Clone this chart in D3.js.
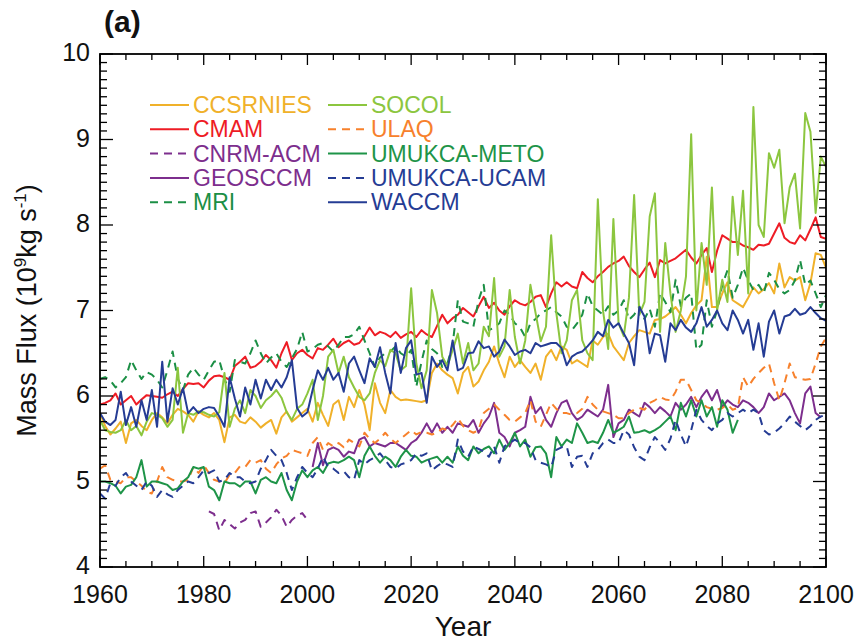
<!DOCTYPE html>
<html>
<head>
<meta charset="utf-8">
<script src="https://cdn.jsdelivr.net/npm/d3@7"></script>
<style>
  html, body { margin: 0; padding: 0; background: #fff; }
  svg { display: block; font-family: Arial, "Liberation Sans", sans-serif; }
</style>
</head>
<body>
<svg id="chart" width="863" height="641"></svg>
<script>
// Annual stratospheric mass flux per model (10^9 kg s^-1), first value = start year
const ccsrniesStart = 1960;
const ccsrnies = [
  5.80,5.65,5.55,5.62,5.70,5.45,5.68,5.72,5.65,5.60,
  5.72,5.80,5.75,5.68,5.78,5.85,5.82,5.78,5.70,5.82,
  5.78,5.75,5.80,5.72,5.46,5.75,5.78,5.70,5.68,5.75,
  5.70,5.63,5.68,5.72,5.56,5.75,5.82,5.70,5.75,5.80,
  5.85,5.70,5.92,5.78,5.65,5.90,5.95,5.72,5.99,5.87,
  6.07,5.90,5.60,6.15,5.92,5.80,6.07,5.99,5.95,5.96,
  5.95,5.94,5.93,5.95,6.27,6.38,6.30,6.25,6.21,6.03,
  6.27,6.34,6.11,6.17,6.30,6.40,6.58,6.38,6.22,6.46,
  6.34,6.42,6.34,6.27,6.38,6.19,6.46,6.54,6.42,6.58,
  6.54,6.38,6.42,6.38,6.34,6.65,6.60,6.69,6.73,6.58,
  6.50,6.42,6.62,6.70,6.77,6.75,6.73,6.89,6.90,6.93,
  6.98,7.04,6.95,6.85,6.97,7.06,7.12,7.63,7.04,7.04,
  7.20,7.33,7.12,7.08,7.04,7.15,7.27,7.20,7.25,7.32,
  7.20,7.55,7.27,7.39,7.35,7.39,7.12,7.32,7.67,7.65,7.50
];

const cmamStart = 1960;
const cmam = [
  5.90,5.92,5.95,6.03,5.90,5.95,6.00,5.90,5.96,6.01,
  6.00,5.99,5.98,6.02,6.05,6.00,6.08,6.15,6.14,6.15,
  6.10,6.18,6.23,6.24,6.22,6.19,6.35,6.40,6.46,6.33,
  6.35,6.40,6.48,6.42,6.33,6.50,6.63,6.42,6.50,6.54,
  6.48,6.44,6.56,6.54,6.60,6.67,6.57,6.62,6.65,6.60,
  6.62,6.70,6.80,6.71,6.75,6.73,6.69,6.75,6.68,6.72,
  6.75,6.69,6.77,6.72,6.69,6.82,6.95,6.85,6.91,6.95,
  7.03,6.98,6.93,7.05,7.16,7.03,7.09,7.00,6.95,7.05,
  7.12,7.08,7.06,7.10,7.16,7.18,7.04,7.20,7.33,7.28,
  7.33,7.28,7.26,7.45,7.38,7.33,7.40,7.45,7.51,7.55,
  7.58,7.63,7.52,7.45,7.39,7.48,7.56,7.39,7.59,7.55,
  7.58,7.61,7.66,7.71,7.62,7.55,7.65,7.73,7.45,7.70,
  7.88,7.84,7.80,7.80,7.76,7.74,7.71,7.77,7.76,7.78,
  7.90,8.02,7.85,7.80,7.78,7.88,7.82,7.95,8.09,7.86,7.84
];

const cnrmStart = 1981;
const cnrm = [
  4.65,4.62,4.43,4.55,4.50,4.45,4.52,4.55,4.63,4.65,
  4.47,4.52,4.58,4.67,4.60,4.47,4.55,4.60,4.63,4.55
];

const geosccmStart = 2001;
const geosccm = [
  5.17,5.45,5.19,5.37,5.40,5.37,5.29,5.35,5.33,
  5.49,5.52,5.41,5.45,5.43,5.41,5.45,5.45,5.41,5.37,
  5.45,5.49,5.57,5.68,5.57,5.68,5.57,5.64,5.57,5.68,
  5.66,5.64,5.72,5.57,5.68,5.76,5.92,5.57,5.52,5.41,
  5.57,5.60,5.64,5.99,5.80,5.87,5.72,5.64,5.80,5.92,
  5.95,5.80,5.72,5.76,5.84,5.80,5.76,5.84,6.13,5.52,
  5.68,5.72,5.84,5.80,5.76,5.92,5.87,5.80,5.87,5.82,
  5.76,5.92,5.84,5.90,5.99,5.87,5.99,6.07,5.95,6.07,
  5.87,5.95,5.90,5.87,5.95,5.92,5.87,5.80,5.87,6.03,
  5.95,5.99,6.03,5.95,5.80,5.68,6.03,6.11,5.80,5.75
];

const mriStart = 1960;
const mri = [
  6.20,6.22,6.18,6.10,6.15,6.22,6.42,6.30,6.20,6.28,
  6.25,6.19,6.10,6.30,6.52,6.20,6.07,6.25,6.33,6.25,
  6.19,6.30,6.40,6.42,6.20,6.05,6.42,6.40,6.38,6.50,
  6.65,6.50,6.38,6.45,6.50,6.40,6.34,6.44,6.55,6.75,
  6.52,6.55,6.60,6.62,6.58,6.52,6.60,6.69,6.69,6.72,
  6.81,6.65,6.50,6.34,6.45,6.50,6.52,6.58,6.50,6.46,
  6.54,6.11,6.40,6.65,6.55,6.50,6.34,6.38,6.60,7.12,
  6.87,6.85,6.81,7.12,7.30,6.77,6.80,6.85,7.00,6.95,
  6.85,6.80,6.69,6.85,6.90,6.97,7.00,7.04,6.98,6.93,
  6.81,6.77,6.85,6.95,7.20,7.05,7.00,6.95,7.05,6.95,
  7.00,7.12,6.89,6.95,7.05,6.90,7.02,6.81,7.20,7.10,
  6.98,7.36,7.05,7.15,7.20,6.54,6.60,7.12,6.81,7.00,
  7.30,7.47,7.15,7.30,7.50,7.35,7.24,7.30,7.20,7.44,
  7.36,7.25,7.20,7.24,7.35,7.59,7.30,7.35,7.20,7.04,7.18
];

const socolStart = 1960;
const socol = [
  5.72,5.60,5.58,5.57,5.60,5.72,5.60,5.65,5.54,5.70,
  5.80,5.78,5.74,5.64,5.72,6.33,5.57,5.80,5.78,5.82,
  5.81,5.78,5.76,5.81,6.27,5.64,5.85,5.95,5.80,6.07,
  6.00,5.86,5.95,6.00,6.07,5.98,5.81,5.72,5.85,5.90,
  6.03,6.19,5.72,6.00,6.46,6.54,6.27,6.46,6.22,6.10,
  5.99,5.95,6.03,6.27,6.42,6.35,6.54,6.50,6.30,6.35,
  7.26,6.38,6.09,6.30,7.24,6.97,6.46,6.35,6.54,6.73,
  6.38,6.62,6.30,6.38,6.81,6.70,7.38,6.46,6.58,7.24,
  6.69,6.38,6.65,7.30,6.97,6.64,6.81,7.88,6.97,6.50,
  6.65,7.12,7.24,6.65,6.50,6.42,8.30,7.00,6.55,8.07,
  6.85,6.70,7.15,8.35,6.95,7.10,8.10,8.37,6.75,7.79,
  7.20,6.75,7.00,7.40,9.06,7.00,7.79,7.30,8.44,7.00,
  7.36,7.10,8.33,7.65,8.40,7.20,9.38,8.00,7.86,8.84,
  8.67,8.88,8.02,8.44,8.60,7.96,9.31,9.09,8.14,8.80,8.68
];

const ulaqStart = 1960;
const ulaq = [
  5.15,5.19,5.02,5.00,4.98,5.05,5.05,5.00,4.95,4.88,
  4.86,5.00,5.17,5.05,5.02,5.00,5.00,5.02,5.17,5.10,
  5.19,5.10,5.02,5.00,4.98,5.08,5.10,5.18,5.17,5.25,
  5.22,5.25,5.15,5.10,5.20,5.27,5.30,5.37,5.35,5.33,
  5.30,5.45,5.52,5.37,5.45,5.41,5.45,5.40,5.49,5.45,
  5.41,5.57,5.50,5.45,5.50,5.57,5.50,5.45,5.50,5.55,
  5.60,5.55,5.58,5.57,5.55,5.57,5.62,5.60,5.66,5.74,
  5.65,5.60,5.57,5.60,5.80,5.85,5.90,5.84,5.78,5.72,
  5.70,5.75,5.80,5.95,5.70,5.64,5.78,5.92,5.85,5.80,
  5.80,5.78,5.80,5.85,5.99,5.90,5.84,5.82,5.80,5.78,
  5.74,5.74,5.80,5.84,5.86,5.84,5.92,5.95,5.99,5.96,
  5.95,6.05,6.19,6.19,6.07,5.95,5.92,5.87,5.85,5.84,
  5.86,5.90,5.84,5.86,6.22,6.11,6.20,6.27,6.33,6.38,
  6.15,5.95,6.15,6.38,6.22,6.20,6.19,6.20,6.38,6.58,6.68
];

const metoStart = 1960;
const meto = [
  5.00,5.00,4.98,4.95,4.86,4.94,4.96,5.05,5.25,4.94,
  5.00,5.00,4.98,4.96,4.90,4.92,5.00,5.05,5.17,5.15,
  5.17,4.94,4.90,4.78,5.00,4.98,4.98,4.94,5.00,5.00,
  4.86,5.02,5.05,5.00,4.98,5.10,4.90,4.78,5.00,5.13,
  5.05,5.13,5.17,5.10,5.21,5.23,5.22,5.25,5.29,5.25,
  5.05,5.30,5.41,5.30,5.22,5.29,5.25,5.17,5.29,5.37,
  5.30,5.29,5.22,5.25,5.27,5.29,5.22,5.29,5.22,5.41,
  5.30,5.25,5.41,5.33,5.38,5.41,5.33,5.49,5.37,5.45,
  5.57,5.41,5.49,5.29,5.40,5.41,5.33,5.05,5.52,5.41,
  5.49,5.45,5.68,5.57,5.45,5.47,5.45,5.57,5.72,5.57,
  5.60,5.64,5.76,5.57,5.58,5.60,5.57,5.60,5.64,5.70,
  5.76,5.60,5.92,5.76,5.95,5.76,5.95,5.76,5.87,5.64,
  5.95,5.84,5.57,5.72
];

const ucamStart = 1960;
const ucam = [
  4.86,4.80,4.98,4.95,5.05,5.10,5.00,4.95,4.90,5.00,
  4.95,4.82,4.90,4.85,4.82,4.90,4.95,5.00,4.98,5.05,
  5.13,5.10,5.13,5.00,5.02,5.10,5.05,5.05,5.00,4.98,
  5.00,5.15,5.25,5.37,5.30,5.25,5.10,4.90,5.05,5.17,
  5.10,5.05,5.15,5.29,5.17,5.15,5.10,5.12,5.05,5.02,
  5.25,5.20,5.25,5.28,5.33,5.25,5.17,5.15,5.20,5.22,
  5.25,5.33,5.30,5.33,5.13,5.18,5.22,5.20,5.17,5.49,
  5.35,5.29,5.41,5.38,5.35,5.29,5.41,5.22,5.41,5.45,
  5.49,5.45,5.45,5.40,5.25,5.22,5.20,5.17,5.37,5.40,
  5.41,5.17,5.29,5.30,5.17,5.33,5.37,5.45,5.49,5.45,
  5.45,5.60,5.55,5.40,5.29,5.25,5.40,5.52,5.45,5.37,
  5.50,5.72,5.55,5.41,5.60,5.84,5.72,5.65,5.60,5.68,
  5.72,5.80,5.76,5.80,5.84,5.80,5.84,5.80,5.60,5.55,
  5.57,5.62,5.68,5.76,5.70,5.65,5.60,5.65,5.72,5.76,5.78
];

const waccmStart = 1960;
const waccm = [
  5.80,5.70,5.66,5.72,6.05,5.66,5.87,5.64,5.95,5.72,
  6.07,5.64,6.40,5.70,6.09,5.90,6.09,5.80,5.87,5.80,
  5.85,5.87,5.86,5.76,5.64,6.22,5.97,5.76,6.10,5.90,
  6.19,5.97,6.19,6.07,6.19,6.10,6.22,6.42,5.86,5.76,
  5.81,6.07,6.30,6.19,6.33,6.19,6.27,6.05,6.38,6.46,
  6.30,6.15,6.44,6.34,6.57,6.27,6.03,6.62,6.27,6.56,
  6.65,6.25,6.27,5.92,6.46,6.34,6.42,6.30,6.65,6.30,
  6.33,6.50,6.51,6.64,6.56,6.58,6.46,6.52,6.66,6.58,
  6.48,6.52,6.54,6.50,6.62,6.58,6.60,6.62,6.62,6.56,
  6.36,6.46,6.50,6.52,6.58,6.65,6.75,6.70,6.89,6.80,
  6.85,6.73,6.62,6.36,7.04,6.93,6.50,6.73,6.71,6.40,
  6.85,6.77,6.89,6.80,6.75,6.85,7.04,6.81,6.89,7.00,
  6.85,6.77,7.00,6.89,6.73,6.89,6.54,6.85,6.46,6.87,
  7.00,6.73,6.93,6.95,7.02,6.95,6.97,7.04,6.97,6.91,6.88
];

// Axis ticks
const xMajorTicks = [1960, 1980, 2000, 2020, 2040, 2060, 2080, 2100];
const yMajorTicks = [4, 5, 6, 7, 8, 9, 10];

// Series table: name, data, colour, dashed
const series = [
  { name: "CCSRNIES",    start: ccsrniesStart, values: ccsrnies, color: "#f0b12a", dash: false },
  { name: "CMAM",        start: cmamStart,     values: cmam,     color: "#ee1c25", dash: false },
  { name: "CNRM-ACM",    start: cnrmStart,     values: cnrm,     color: "#7d2e8d", dash: true },
  { name: "GEOSCCM",     start: geosccmStart,  values: geosccm,  color: "#7d2e8d", dash: false },
  { name: "MRI",         start: mriStart,      values: mri,      color: "#1b8f45", dash: true },
  { name: "SOCOL",       start: socolStart,    values: socol,    color: "#8cc63f", dash: false },
  { name: "ULAQ",        start: ulaqStart,     values: ulaq,     color: "#f7812c", dash: true },
  { name: "UMUKCA-METO", start: metoStart,     values: meto,     color: "#1e9448", dash: false },
  { name: "UMUKCA-UCAM", start: ucamStart,     values: ucam,     color: "#253c94", dash: true },
  { name: "WACCM",       start: waccmStart,    values: waccm,    color: "#253c94", dash: false }
];

const svg = d3.select("#chart");
const margin = { left: 100, right: 37, top: 54, bottom: 74 };
const W = 863, H = 641;
const x0 = margin.left, x1 = W - margin.right, y0 = margin.top, y1 = H - margin.bottom;

const x = d3.scaleLinear().domain([1960, 2100]).range([x0, x1]);
const y = d3.scaleLinear().domain([4, 10]).range([y1, y0]);

svg.append("defs").append("clipPath").attr("id", "plotClip")
  .append("rect").attr("x", x0).attr("y", y0).attr("width", x1 - x0).attr("height", y1 - y0);

// Data lines
const line = d3.line().x(d => x(d.year)).y(d => y(d.value));
const lines = svg.append("g").attr("clip-path", "url(#plotClip)");
series.forEach(s => {
  const pts = s.values.map((v, i) => ({ year: s.start + i, value: v }));
  lines.append("path")
    .datum(pts)
    .attr("fill", "none")
    .attr("stroke", s.color)
    .attr("stroke-width", 2)
    .attr("stroke-linejoin", "round")
    .attr("stroke-dasharray", s.dash ? "8,6" : null)
    .attr("d", line);
});

// Frame with inward ticks on all four sides
const frame = svg.append("g").attr("stroke", "#000").attr("fill", "none");
const majLen = 13, minLen = 7;

const yMinor = d3.range(40, 101).map(v => v / 10).filter(v => !yMajorTicks.includes(v));
const xMinor = d3.range(1960, 2101, 5).filter(v => !xMajorTicks.includes(v));

const tg = frame.append("g").attr("stroke-width", 1.3);
yMajorTicks.forEach(v => {
  tg.append("line").attr("x1", x0).attr("x2", x0 + majLen).attr("y1", y(v)).attr("y2", y(v));
  tg.append("line").attr("x1", x1).attr("x2", x1 - majLen).attr("y1", y(v)).attr("y2", y(v));
});
yMinor.forEach(v => {
  tg.append("line").attr("x1", x0).attr("x2", x0 + minLen).attr("y1", y(v)).attr("y2", y(v));
  tg.append("line").attr("x1", x1).attr("x2", x1 - minLen).attr("y1", y(v)).attr("y2", y(v));
});
xMajorTicks.forEach(v => {
  tg.append("line").attr("x1", x(v)).attr("x2", x(v)).attr("y1", y1).attr("y2", y1 - 11);
  tg.append("line").attr("x1", x(v)).attr("x2", x(v)).attr("y1", y0).attr("y2", y0 + 11);
});
xMinor.forEach(v => {
  tg.append("line").attr("x1", x(v)).attr("x2", x(v)).attr("y1", y1).attr("y2", y1 - 6);
  tg.append("line").attr("x1", x(v)).attr("x2", x(v)).attr("y1", y0).attr("y2", y0 + 6);
});

frame.append("rect")
  .attr("x", x0).attr("y", y0).attr("width", x1 - x0).attr("height", y1 - y0)
  .attr("stroke-width", 1.8);

// Tick labels
const labels = svg.append("g").attr("fill", "#111");
yMajorTicks.forEach(v => {
  labels.append("text")
    .attr("x", x0 - 10).attr("y", y(v) + 7)
    .attr("text-anchor", "end")
    .attr("font-size", 25)
    .text(v);
});
xMajorTicks.forEach(v => {
  labels.append("text")
    .attr("x", x(v)).attr("y", y1 + 36)
    .attr("text-anchor", "middle")
    .attr("font-size", 25)
    .text(v);
});

// Axis titles
labels.append("text")
  .attr("x", (x0 + x1) / 2).attr("y", 636)
  .attr("text-anchor", "middle")
  .attr("font-size", 28)
  .text("Year");

const yt = labels.append("text")
  .attr("transform", `translate(36, ${(y0 + y1) / 2}) rotate(-90)`)
  .attr("text-anchor", "middle")
  .attr("font-size", 27);
yt.append("tspan").text("Mass Flux (10");
yt.append("tspan").attr("font-size", 17).attr("dy", -10).text("9");
yt.append("tspan").attr("dy", 10).text("kg s");
yt.append("tspan").attr("font-size", 17).attr("dy", -10).text("-1");
yt.append("tspan").attr("dy", 10).text(")");

// Panel label
labels.append("text")
  .attr("x", 104).attr("y", 32)
  .attr("font-size", 30)
  .attr("font-weight", "bold")
  .text("(a)");

// Legend: two columns of five
const legend = svg.append("g");
const colX = [150, 328];
const rowY0 = 105, rowDy = 24.3;
series.forEach((s, i) => {
  const col = Math.floor(i / 5), row = i % 5;
  const lx = colX[col], ly = rowY0 + row * rowDy;
  legend.append("line")
    .attr("x1", lx).attr("x2", lx + 39)
    .attr("y1", ly).attr("y2", ly)
    .attr("stroke", s.color).attr("stroke-width", 2)
    .attr("stroke-dasharray", s.dash ? "8,6" : null);
  legend.append("text")
    .attr("x", lx + 43).attr("y", ly + 8)
    .attr("font-size", 23)
    .attr("fill", s.color)
    .text(s.name);
});
</script>
</body>
</html>
